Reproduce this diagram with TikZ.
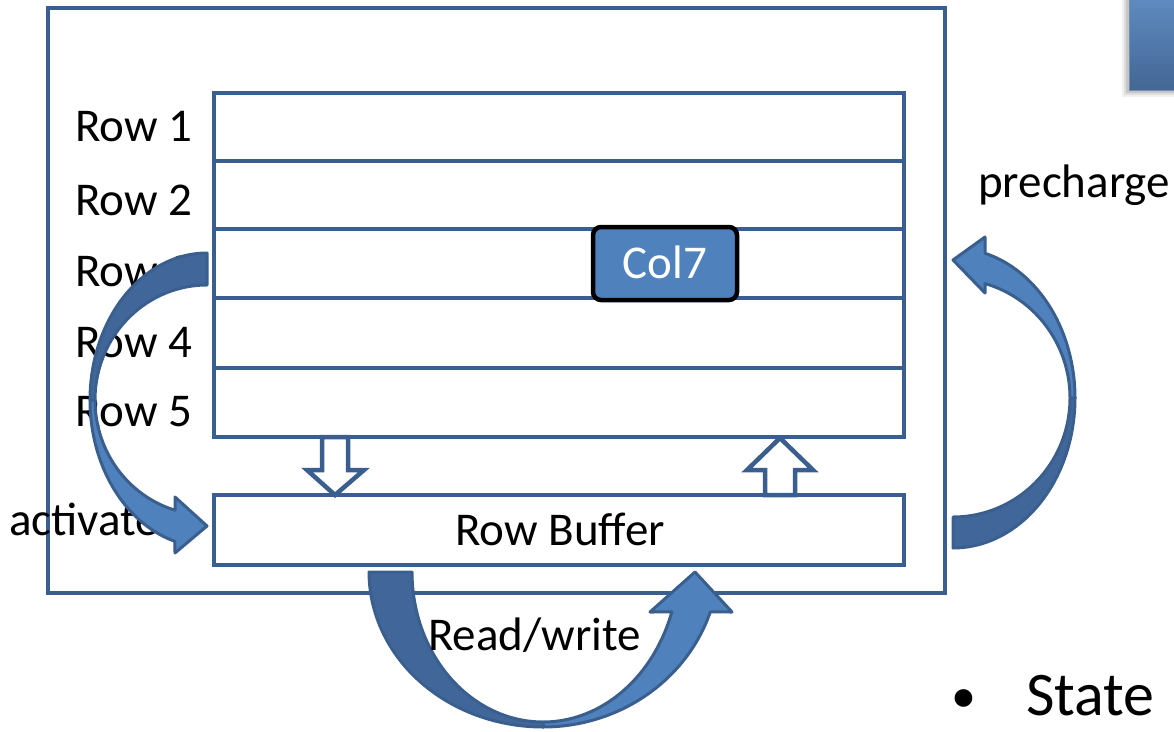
\documentclass[tikz,border=0pt]{standalone}
\usepackage{fontspec}
\setmainfont{Carlito}
\definecolor{edge}{HTML}{3A5F8F}
\definecolor{fillblue}{HTML}{4F81BD}
\definecolor{darkblue}{HTML}{41679A}
\begin{document}
\begin{tikzpicture}[x=1pt,y=-1pt,
  frame/.style={draw=edge, line width=4.5pt},
  cell/.style={draw=edge, line width=4.5pt, minimum width=690pt, inner sep=0pt},
  lbl/.style={anchor=base west, inner sep=0pt, font=\fontsize{47}{50}\selectfont},
  ribbonlight/.style={fill=fillblue, draw=edge, line width=3pt, line join=round},
  ribbondark/.style={fill=darkblue, draw=edge, line width=3pt, line join=round},
  hollow/.style={fill=white, draw=edge, line width=4.5pt, line join=miter},
  colbox/.style={draw=black, line width=4.5pt, fill=fillblue, rounded corners=8pt,
    minimum width=144pt, minimum height=73pt, inner sep=0pt}]
\useasboundingbox (0,0) rectangle (1174,731);

% bank outline
\draw[frame] (48,8) rectangle (945,593);

% row array
\node[cell, minimum height=68pt] (row1) at (559,127) {};
\node[cell, minimum height=68pt] (row2) at (559,195) {};
\node[cell, minimum height=69pt] (row3) at (559,263.5) {};
\node[cell, minimum height=70pt] (row4) at (559,333) {};
\node[cell, minimum height=69pt] (row5) at (559,402.5) {};

% row buffer
\node[cell, minimum height=70pt] (buf) at (559,530) {};
\node[lbl, anchor=base] (buftext) at (560,545) {Row Buffer};

% transfer arrows between array and buffer
\coordinate (dn) at (335,437);
\coordinate (up) at (780,495);
\draw[hollow] (dn) ++(-13,0) -- ++(26,0) -- ++(0,33) -- ++(16,0) -- (335,495)
  -- (307,470) -- (322,470) -- cycle;
\draw[hollow] (up) ++(-15,0) -- ++(30,0) -- ++(0,-25) -- ++(18,0) -- (780,438)
  -- (747,470) -- (765,470) -- cycle;

% selected column
\node[colbox] (col7) at (665,263.5) {};
\node[lbl, anchor=base, text=white] (coltext) at (665,278) {Col7};

% row labels
\node[lbl] (l1) at (75,141) {Row 1};
\node[lbl] (l2) at (75,215) {Row 2};
\node[lbl] (l3) at (75,286) {Row 3};
\node[lbl] (l4) at (75,357) {Row 4};
\node[lbl] (l5) at (75,426) {Row 5};
\node[lbl] (act) at (9,535) {activate};

% activate: curved ribbon arrow on the left
\filldraw[ribbonlight] plot[domain=180:105.9, samples=50, variable=\t]
    ({207+117*cos(\t)},{400+147*sin(\t)})
  -- (175,553) -- (207,526) -- (175,497)
  -- plot[domain=106.6:180, samples=50, variable=\t]
    ({207+112*cos(\t)},{400+115*sin(\t)}) -- cycle;
\filldraw[ribbondark] plot[domain=270:180, samples=50, variable=\t]
    ({207+117*cos(\t)},{400+147*sin(\t)})
  -- plot[domain=180:270, samples=50, variable=\t]
    ({207+112*cos(\t)},{400+115*sin(\t)}) -- cycle;

% precharge: curved ribbon arrow on the right
\filldraw[ribbonlight] plot[domain=0:-74.8, samples=50, variable=\t]
    ({953+122*cos(\t)},{398+150*sin(\t)})
  -- (985,237) -- (953,260) -- (985,293)
  -- plot[domain=-74.1:0, samples=50, variable=\t]
    ({953+117*cos(\t)},{398+119*sin(\t)}) -- cycle;
\filldraw[ribbondark] plot[domain=90:0, samples=50, variable=\t]
    ({953+122*cos(\t)},{398+150*sin(\t)})
  -- plot[domain=0:90, samples=50, variable=\t]
    ({953+117*cos(\t)},{398+119*sin(\t)}) -- cycle;

% read/write: curved ribbon arrow below the buffer
\filldraw[ribbonlight] plot[domain=90:18.1, samples=50, variable=\t]
    ({543+176*cos(\t)},{560+167*sin(\t)})
  -- (732,612) -- (695,572) -- (650,612)
  -- plot[domain=18.7:90, samples=50, variable=\t]
    ({543+136*cos(\t)},{560+162*sin(\t)}) -- cycle;
\filldraw[ribbondark] plot[domain=180:90, samples=50, variable=\t]
    ({543+174*cos(\t)},{572+155*sin(\t)})
  -- plot[domain=90:180, samples=50, variable=\t]
    ({543+131*cos(\t)},{572+150*sin(\t)}) -- cycle;

\node[lbl] (rw) at (428,650) {Read/write};
\node[lbl] (pre) at (978,197) {precharge};

% bullet line
\node[lbl, font=\fontsize{50}{54}\selectfont, anchor=base] (bul) at (964,712) {•};
\node[lbl, font=\fontsize{62}{66}\selectfont] (state) at (1026,715) {State};

% corner tab
\foreach \o/\a in {7/0.06,5/0.08,3/0.1} {
  \fill[black, opacity=\a] (1129-\o,-10) rectangle (1180,90+\o);
}
\shade[top color=fillblue!90!white, bottom color=edge!95!white, draw=edge!70!white, line width=1pt]
  (1129,-10) rectangle (1180,90);
\end{tikzpicture}
\end{document}
